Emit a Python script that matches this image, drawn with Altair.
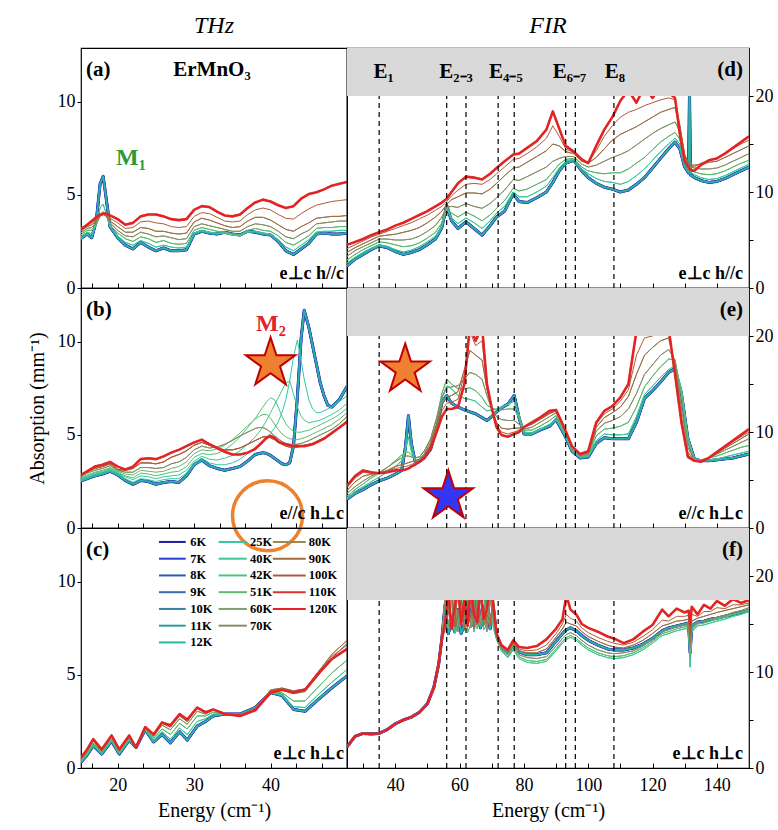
import altair as alt
import pandas as pd

FONT = "Liberation Serif"

# ---------------- temperatures / colours ----------------
TEMPS = ["6K", "7K", "8K", "9K", "10K", "11K", "12K", "25K", "40K", "42K",
         "51K", "60K", "70K", "80K", "90K", "100K", "110K", "120K"]
T_COLORS = ["#1c1ca4", "#2a3cd2", "#2f58ba", "#386cb2", "#3782a8", "#2a9a9a",
            "#2cb8a8", "#30c8a6", "#3cc890", "#4ec07e", "#62b86a", "#7ea070",
            "#8a8a66", "#9a8a50", "#9c6c46", "#b0583c", "#d83434", "#e82020"]
T_WIDTHS = [3.0, 2.6, 2.2, 1.9, 1.6, 1.3, 1.1, 1.0, 1.0, 1.0,
            1.0, 1.0, 1.0, 1.0, 1.0, 1.0, 2.6, 1.6]
GROUPS = ["lo"] * 7 + ["g1", "g1", "g2", "g2", "g3", "g3", "g4", "g4", "g5", "hi", "hi"]
GROUPS_B = ["lo"] * 7 + ["t25", "t40", "t42", "t51", "t60", "t60", "t80", "t80", "t80", "hi", "hi"]

# legend of panel (c): three columns of temperatures
LEG_COLS = [["6K", "7K", "8K", "9K", "10K", "11K", "12K"],
            ["25K", "40K", "42K", "51K", "60K", "70K"],
            ["80K", "90K", "100K", "110K", "120K"]]
LEG_LINE_X = [(25.4, 28.9), (33.2, 36.9), (40.3, 44.6)]
LEG_LABEL_X = [29.5, 37.3, 45.0]
LEG_Y0, LEG_DY = 12.15, 0.9

# ---------------- panel (a): THz, e perp c, h // c ----------------
XA = [15, 16, 16.6, 17.2, 17.7, 18.1, 18.5, 19, 20, 21,
      22, 23, 24, 25, 26, 27, 28, 29, 30, 31,
      32, 33, 34, 35, 36, 37, 38, 39, 40, 41,
      42, 43, 44, 45, 46, 47, 48, 49, 50]
A_CURVES = {
    "lo": [2.6, 2.9, 2.7, 3.6, 5.6, 6.0, 4.8, 3.3, 2.7, 2.3,
           2.1, 2.45, 2.2, 2.0, 2.15, 2.0, 2.0, 2.05, 2.9, 3.05,
           2.95, 2.9, 3.0, 2.9, 2.85, 3.05, 3.0, 2.9, 2.85, 2.5,
           2.0, 1.8, 2.1, 2.4, 2.9, 2.95, 2.9, 2.9, 2.95],
    "g1": [2.7, 3.0, 2.9, 3.4, 4.3, 4.5, 4.0, 3.3, 2.8, 2.45,
           2.3, 2.55, 2.4, 2.2, 2.3, 2.2, 2.15, 2.2, 2.95, 3.1,
           3.0, 2.95, 2.95, 2.85, 2.8, 3.0, 3.05, 2.95, 2.9, 2.6,
           2.2, 2.0, 2.3, 2.6, 3.0, 3.05, 3.05, 3.1, 3.1],
    "g2": [2.8, 3.1, 3.1, 3.4, 3.9, 4.1, 3.9, 3.4, 2.95, 2.65,
           2.5, 2.75, 2.65, 2.45, 2.55, 2.4, 2.35, 2.4, 3.1, 3.25,
           3.15, 3.05, 3.0, 2.9, 2.85, 3.1, 3.2, 3.1, 3.05, 2.8,
           2.45, 2.3, 2.55, 2.8, 3.2, 3.25, 3.25, 3.3, 3.3],
    "g3": [2.9, 3.2, 3.25, 3.5, 3.85, 3.95, 3.85, 3.5, 3.1, 2.8,
           2.75, 3.0, 2.9, 2.75, 2.8, 2.7, 2.6, 2.65, 3.3, 3.45,
           3.35, 3.25, 3.15, 3.05, 3.05, 3.3, 3.45, 3.4, 3.3, 3.05,
           2.75, 2.65, 2.9, 3.1, 3.45, 3.5, 3.55, 3.6, 3.6],
    "g4": [3.0, 3.3, 3.4, 3.6, 3.85, 3.95, 3.9, 3.6, 3.3, 3.0,
           3.0, 3.25, 3.2, 3.05, 3.05, 2.95, 2.9, 2.95, 3.55, 3.75,
           3.65, 3.5, 3.35, 3.25, 3.3, 3.6, 3.8, 3.8, 3.65, 3.4,
           3.15, 3.05, 3.3, 3.5, 3.75, 3.8, 3.85, 3.85, 3.9],
    "g5": [3.05, 3.35, 3.5, 3.7, 3.9, 3.95, 3.95, 3.75, 3.5, 3.2,
           3.25, 3.55, 3.6, 3.5, 3.45, 3.3, 3.25, 3.3, 3.85, 4.05,
           4.0, 3.8, 3.6, 3.55, 3.6, 3.95, 4.2, 4.3, 4.2, 3.95,
           3.75, 3.7, 4.0, 4.25, 4.45, 4.55, 4.65, 4.7, 4.75],
    "hi": [3.1, 3.4, 3.6, 3.8, 3.95, 4.0, 4.0, 3.9, 3.7, 3.4,
           3.5, 3.85, 3.95, 3.95, 3.85, 3.7, 3.65, 3.7, 4.2, 4.4,
           4.35, 4.1, 3.9, 3.85, 3.95, 4.3, 4.6, 4.75, 4.65, 4.45,
           4.3, 4.4, 4.8, 5.05, 5.15, 5.3, 5.5, 5.6, 5.7],
}

# ---------------- panel (b): THz, e // c, h perp c ----------------
XB = [15, 16, 17, 18, 19, 20, 21, 22, 23, 24,
      25, 26, 27, 28, 29, 30, 31, 32, 33, 34,
      35, 36, 37, 38, 38.5, 39, 39.5, 40, 40.5, 41,
      41.5, 42, 42.5, 43, 43.5, 44, 44.4, 45, 45.5, 46,
      46.5, 47, 47.5, 48, 49, 50]
B_CURVES = {
    "lo": [2.5, 2.65, 2.8, 2.9, 3.05, 2.85, 2.55, 2.35, 2.55, 2.5,
           2.35, 2.45, 2.5, 2.45, 2.8, 3.4, 3.65, 3.35, 3.2, 3.1,
           3.2, 3.3, 3.6, 3.95, 4.0, 4.05, 4.0, 3.9, 3.75, 3.6,
           3.45, 3.4, 3.5, 4.4, 7.0, 10.2, 11.7, 10.8, 9.8, 8.8,
           7.8, 7.1, 6.6, 6.5, 6.9, 7.6],
    "t25": [2.55, 2.7, 2.85, 2.95, 3.1, 2.9, 2.65, 2.45, 2.65, 2.6,
            2.5, 2.6, 2.65, 2.65, 2.95, 3.5, 3.75, 3.5, 3.4, 3.4,
            3.5, 3.7, 4.0, 4.35, 4.5, 4.7, 4.9, 5.1, 5.35, 5.7,
            6.2, 6.9, 7.9, 9.2, 10.1, 9.0, 8.0, 6.9, 6.4, 6.2,
            6.2, 6.3, 6.4, 6.5, 6.8, 7.1],
    "t40": [2.6, 2.75, 2.9, 3.0, 3.15, 2.95, 2.75, 2.6, 2.8, 2.75,
            2.65, 2.75, 2.8, 2.85, 3.1, 3.6, 3.85, 3.7, 3.65, 3.75,
            3.9, 4.15, 4.5, 4.9, 5.15, 5.45, 5.8, 6.2, 6.6, 7.0,
            7.4, 7.8, 7.9, 7.2, 6.5, 6.0, 5.8, 5.65, 5.7, 5.75,
            5.8, 5.9, 6.0, 6.1, 6.35, 6.7],
    "t42": [2.65, 2.8, 2.95, 3.05, 3.2, 3.0, 2.8, 2.7, 2.95, 2.9,
            2.8, 2.9, 3.0, 3.05, 3.3, 3.8, 4.0, 3.95, 4.0, 4.2,
            4.5, 4.9, 5.4, 5.9, 6.2, 6.5, 6.8, 7.0, 6.9, 6.5,
            6.0, 5.6, 5.35, 5.2, 5.15, 5.15, 5.2, 5.25, 5.35, 5.45,
            5.55, 5.65, 5.75, 5.85, 6.1, 6.45],
    "t51": [2.7, 2.85, 3.0, 3.1, 3.25, 3.05, 2.9, 2.85, 3.1, 3.05,
            3.0, 3.05, 3.2, 3.3, 3.55, 4.0, 4.2, 4.15, 4.25, 4.45,
            4.75, 5.1, 5.5, 5.85, 6.0, 6.1, 6.1, 5.9, 5.6, 5.3,
            5.05, 4.9, 4.8, 4.75, 4.75, 4.8, 4.85, 4.95, 5.05, 5.15,
            5.25, 5.35, 5.45, 5.55, 5.85, 6.2],
    "t60": [2.75, 2.95, 3.1, 3.2, 3.35, 3.1, 3.0, 3.0, 3.25, 3.25,
            3.2, 3.25, 3.45, 3.55, 3.8, 4.2, 4.4, 4.3, 4.35, 4.5,
            4.7, 4.95, 5.15, 5.35, 5.4, 5.4, 5.3, 5.15, 4.95, 4.8,
            4.65, 4.55, 4.5, 4.5, 4.5, 4.55, 4.6, 4.7, 4.8, 4.9,
            5.0, 5.1, 5.2, 5.3, 5.6, 6.0],
    "t80": [2.8, 3.0, 3.2, 3.3, 3.45, 3.15, 3.1, 3.2, 3.5, 3.5,
            3.45, 3.55, 3.8, 3.95, 4.15, 4.45, 4.6, 4.45, 4.3, 4.2,
            4.2, 4.3, 4.5, 4.7, 4.8, 4.9, 4.9, 4.85, 4.75, 4.6,
            4.5, 4.4, 4.35, 4.35, 4.35, 4.4, 4.45, 4.5, 4.55, 4.65,
            4.75, 4.85, 4.95, 5.1, 5.4, 5.8],
    "hi": [2.8, 3.05, 3.3, 3.4, 3.55, 3.3, 3.15, 3.3, 3.7, 3.75,
           3.7, 3.85, 4.05, 4.2, 4.4, 4.6, 4.75, 4.5, 4.3, 4.1,
           3.95, 3.95, 4.05, 4.25, 4.45, 4.65, 4.85, 4.95, 4.85, 4.65,
           4.55, 4.5, 4.45, 4.4, 4.4, 4.4, 4.4, 4.45, 4.5, 4.6,
           4.7, 4.8, 4.95, 5.1, 5.4, 5.7],
}

# ---------------- panel (c): THz, e perp c, h perp c ----------------
XC = [15.2, 16.0, 16.8, 17.9, 19.2, 20.2, 21.5, 22.4, 23.6, 24.7,
      25.8, 26.9, 28.1, 29.1, 30.4, 31.5, 32.5, 34, 36, 38,
      40, 41.5, 43, 44.5, 46, 48, 50]
C_CURVES = {
    "lo": [0.3, 0.7, 1.2, 0.75, 1.45, 0.75, 1.5, 1.1, 2.05, 1.4,
           1.8, 1.35, 1.95, 1.5, 2.25, 2.5, 2.8, 2.9, 2.9, 3.25,
           4.05, 3.9, 3.15, 3.05, 3.6, 4.3, 4.95],
    "g1": [0.35, 0.75, 1.25, 0.8, 1.5, 0.8, 1.55, 1.1, 2.1, 1.5,
           1.95, 1.55, 2.15, 1.8, 2.5, 2.65, 2.9, 2.9, 2.85, 3.2,
           4.05, 3.95, 3.3, 3.25, 3.85, 4.6, 5.3],
    "g2": [0.4, 0.8, 1.35, 0.85, 1.55, 0.85, 1.6, 1.1, 2.1, 1.6,
           2.1, 1.8, 2.4, 2.1, 2.8, 2.8, 3.0, 2.9, 2.85, 3.2,
           4.1, 4.05, 3.6, 3.6, 4.25, 5.1, 5.8],
    "g3": [0.45, 0.9, 1.45, 0.9, 1.65, 0.9, 1.65, 1.1, 2.15, 1.7,
           2.3, 2.05, 2.65, 2.35, 3.05, 2.9, 3.1, 2.95, 2.85, 3.2,
           4.15, 4.2, 4.0, 4.1, 4.85, 5.9, 6.7],
    "g4": [0.5, 0.95, 1.5, 0.95, 1.7, 0.95, 1.7, 1.1, 2.2, 1.75,
           2.4, 2.2, 2.8, 2.5, 3.2, 2.95, 3.15, 2.95, 2.85, 3.2,
           4.2, 4.3, 4.15, 4.25, 5.05, 6.1, 6.85],
    "g5": [0.55, 1.0, 1.55, 1.0, 1.75, 1.0, 1.75, 1.1, 2.2, 1.8,
           2.45, 2.25, 2.85, 2.55, 3.25, 3.0, 3.15, 2.9, 2.8, 3.15,
           4.15, 4.25, 4.1, 4.25, 5.0, 6.0, 6.6],
    "hi": [0.55, 1.0, 1.55, 1.0, 1.75, 1.0, 1.75, 1.1, 2.2, 1.8,
           2.45, 2.3, 2.9, 2.6, 3.25, 3.0, 3.15, 2.9, 2.8, 3.1,
           4.05, 4.2, 4.05, 4.2, 4.95, 5.85, 6.4],
}

# ---------------- panel (d): FIR, e perp c, h // c ----------------
XD = [25, 27.5, 30, 32.5, 35, 37.5, 40, 42.5, 45, 47.5,
      50, 52.5, 54.5, 56, 57.5, 59.5, 62, 64.5, 67, 69.5,
      71.5, 74, 76.7, 78.5, 81, 84, 87, 89, 91, 93,
      95.5, 98, 100, 102.5, 105, 107.5, 110, 112.5, 115, 117.5,
      120, 122.5, 125, 127, 128.5, 130, 131.2, 131.5, 131.8, 133,
      135, 137.5, 140, 142.5, 145, 147.5, 150]
D_CURVES = {
    "lo": [2.3, 3.0, 3.5, 4.0, 4.4, 4.2, 3.8, 3.5, 3.7, 4.0,
           4.5, 5.1, 6.3, 8.6, 7.0, 6.2, 6.9, 6.2, 5.5, 6.5,
           7.4, 8.0, 9.8, 9.0, 8.9, 9.4, 10.0, 11.0, 12.2, 13.0,
           13.3, 12.2, 11.5, 10.9, 10.5, 10.3, 10.0, 10.2, 10.8, 11.5,
           12.5, 13.5, 14.5, 15.2, 14.5, 12.6, 12.0, 20.5, 11.8, 11.5,
           11.2, 11.0, 11.1, 11.4, 11.8, 12.2, 12.6],
    "g1": [2.6, 3.2, 3.7, 4.15, 4.5, 4.35, 4.0, 3.75, 3.95, 4.3,
           4.8, 5.4, 6.5, 8.3, 7.3, 6.7, 7.3, 6.8, 6.2, 7.0,
           7.8, 8.5, 10.0, 9.5, 9.5, 10.0, 10.6, 11.5, 12.5, 13.2,
           13.4, 12.4, 11.9, 11.4, 11.1, 11.0, 10.8, 11.1, 11.7, 12.4,
           13.3, 14.2, 15.0, 15.6, 15.0, 13.0, 12.3, 12.2, 12.1, 11.8,
           11.5, 11.3, 11.4, 11.7, 12.1, 12.5, 12.9],
    "g2": [2.9, 3.5, 4.0, 4.4, 4.8, 4.7, 4.5, 4.3, 4.4, 4.7,
           5.2, 5.8, 6.8, 8.3, 7.8, 7.4, 7.9, 7.5, 7.0, 7.6,
           8.3, 9.1, 10.4, 10.1, 10.3, 10.8, 11.3, 12.1, 12.9, 13.4,
           13.5, 12.6, 12.2, 12.0, 11.9, 12.0, 12.0, 12.4, 13.0, 13.6,
           14.4, 15.2, 15.8, 16.2, 15.5, 13.3, 12.5, 12.4, 12.3, 12.1,
           11.9, 11.8, 11.9, 12.2, 12.6, 13.0, 13.3],
    "g3": [3.3, 3.9, 4.3, 4.7, 5.1, 5.1, 5.0, 5.0, 5.1, 5.4,
           5.9, 6.5, 7.4, 8.4, 8.5, 8.4, 8.8, 8.5, 8.3, 8.8,
           9.4, 10.2, 11.3, 11.2, 11.6, 12.1, 12.6, 13.2, 13.5, 13.7,
           13.7, 12.9, 12.6, 12.8, 13.2, 13.6, 13.9, 14.3, 14.9, 15.5,
           16.1, 16.6, 17.0, 17.3, 16.3, 13.6, 12.8, 12.7, 12.6, 12.5,
           12.4, 12.4, 12.5, 12.8, 13.2, 13.6, 14.0],
    "g4": [3.7, 4.2, 4.6, 5.0, 5.4, 5.5, 5.6, 5.8, 6.0, 6.3,
           6.8, 7.4, 8.0, 8.7, 9.2, 9.5, 9.9, 9.9, 9.8, 10.3,
           10.9, 11.7, 12.5, 12.6, 13.1, 13.7, 14.3, 15.0, 14.8, 14.2,
           14.0, 13.2, 13.0, 13.6, 14.5, 15.4, 16.0, 16.4, 16.8, 17.3,
           17.8, 18.3, 18.6, 18.8, 16.8, 13.9, 13.0, 12.9, 12.8, 12.8,
           12.9, 13.1, 13.2, 13.6, 14.0, 14.4, 14.8],
    "g5": [4.1, 4.5, 4.9, 5.3, 5.6, 5.9, 6.2, 6.5, 6.8, 7.2,
           7.6, 8.1, 8.5, 9.0, 9.6, 10.2, 10.8, 10.9, 10.8, 11.3,
           11.9, 12.6, 13.4, 13.5, 14.0, 14.7, 15.6, 16.9, 15.8, 14.5,
           14.1, 13.3, 13.1, 14.3, 15.8, 16.9, 17.8, 18.3, 18.6, 19.0,
           19.3, 19.6, 19.8, 19.6, 17.0, 13.8, 12.9, 12.8, 12.7, 12.6,
           13.0, 13.3, 13.5, 14.0, 14.5, 15.0, 15.4],
    "hi": [4.5, 4.8, 5.1, 5.5, 5.8, 6.1, 6.5, 6.8, 7.2, 7.6,
           8.0, 8.5, 8.9, 9.3, 10.0, 10.9, 11.6, 11.5, 11.3, 11.9,
           12.5, 13.2, 13.9, 14.0, 14.6, 15.3, 16.5, 18.4, 16.6, 14.8,
           14.2, 13.4, 13.0, 14.8, 16.5, 17.8, 19.5, 20.6, 19.3, 21.0,
           19.8, 21.0, 20.4, 19.8, 16.0, 13.2, 12.6, 12.4, 12.3, 12.2,
           12.8, 13.3, 13.5, 14.0, 14.6, 15.2, 15.8],
}

# ---------------- panel (e): FIR, e // c, h perp c ----------------
XE = [25, 27.5, 30, 32.5, 35, 37.5, 40, 42, 43.2, 44.1,
      45, 46.2, 47.5, 49, 51, 53, 54.5, 56, 57.5, 59.5,
      61.5, 63.2, 65, 67, 68.5, 70, 71.5, 73, 75, 77,
      78.5, 80, 82.5, 85, 88, 90, 92.5, 95, 97.5, 100,
      102.5, 105, 107.5, 110, 112.5, 115, 117.5, 120, 122.5, 125,
      127, 129, 131, 133, 135, 137.5, 140, 142.5, 145, 147.5,
      150]
E_CURVES = {
    "lo": [3.0, 3.6, 4.0, 4.5, 4.9, 5.2, 5.6, 6.0, 8.5, 11.7,
           8.8, 6.9, 6.9, 7.3, 8.2, 10.5, 13.1, 13.8, 13.0, 12.6,
           12.3, 12.1, 11.9, 11.5, 11.2, 11.6, 12.1, 12.5, 12.9, 13.8,
           11.5, 9.8, 9.8, 10.2, 10.6, 11.3, 9.8, 8.0, 7.3, 7.4,
           8.8, 9.4, 9.3, 9.3, 9.3, 11.0, 13.5, 14.3, 15.2, 16.2,
           16.6, 14.0, 9.3, 7.2, 7.0, 7.0, 7.1, 7.2, 7.3, 7.5,
           7.7],
    "g1": [3.1, 3.8, 4.3, 4.8, 5.3, 5.8, 6.4, 7.0, 8.2, 9.5,
           8.0, 7.0, 7.1, 7.6, 8.6, 10.9, 13.5, 14.8, 14.5, 13.8,
           13.5, 13.4, 13.2, 12.6, 12.2, 12.3, 12.4, 12.6, 12.9, 13.2,
           11.8, 10.0, 9.9, 10.3, 10.8, 11.4, 9.9, 8.1, 7.4, 7.5,
           9.1, 9.8, 9.7, 9.7, 9.8, 11.6, 13.9, 14.8, 15.7, 16.5,
           16.9, 14.5, 9.5, 7.2, 7.0, 7.1, 7.2, 7.4, 7.6, 7.8,
           8.0],
    "g2": [3.3, 4.0, 4.6, 5.2, 5.7, 6.3, 7.0, 7.6, 7.9, 7.9,
           7.6, 7.3, 7.4, 8.0, 9.2, 11.6, 14.0, 15.5, 15.0, 14.5,
           14.5, 14.6, 14.3, 13.6, 12.8, 12.5, 12.3, 12.3, 12.4, 12.4,
           11.4, 10.2, 10.2, 10.6, 11.2, 11.7, 10.1, 8.2, 7.4, 7.6,
           9.6, 10.3, 10.4, 10.6, 11.0, 12.6, 14.7, 15.8, 16.8, 17.6,
           17.5, 14.0, 9.0, 7.2, 7.1, 7.3, 7.5, 7.8, 8.1, 8.4,
           8.6],
    "g3": [3.6, 4.3, 4.9, 5.4, 5.8, 6.3, 6.9, 7.3, 7.5, 7.5,
           7.4, 7.3, 7.4, 8.0, 9.3, 11.6, 13.6, 14.6, 14.7, 14.8,
           15.5, 16.2, 16.0, 15.5, 13.8, 12.4, 11.6, 11.3, 11.2, 11.2,
           10.8, 10.3, 10.5, 11.0, 11.6, 12.0, 10.3, 8.3, 7.5, 7.7,
           10.1, 10.9, 11.2, 11.6, 12.4, 14.0, 16.0, 17.0, 18.0, 18.6,
           17.5, 12.5, 8.4, 7.1, 7.0, 7.3, 7.7, 8.1, 8.5, 8.9,
           9.3],
    "g4": [3.9, 4.8, 5.4, 5.6, 5.7, 6.0, 6.4, 6.6, 6.7, 6.8,
           6.9, 7.0, 7.2, 7.7, 8.9, 11.0, 12.8, 13.6, 13.8, 14.2,
           16.5, 18.5, 18.0, 17.5, 14.5, 12.4, 11.0, 10.4, 10.3, 10.4,
           10.4, 10.5, 10.8, 11.3, 11.9, 12.2, 10.4, 8.4, 7.6, 7.8,
           10.5, 11.5, 12.0, 12.6, 13.7, 16.0, 18.0, 18.8, 19.5, 19.8,
           17.0, 11.5, 7.9, 7.0, 6.9, 7.3, 7.8, 8.3, 8.8, 9.3,
           9.8],
    "g5": [4.2, 5.2, 5.8, 5.7, 5.7, 5.9, 6.2, 6.3, 6.4, 6.5,
           6.6, 6.8, 7.0, 7.5, 8.6, 10.6, 12.2, 13.0, 13.1, 13.4,
           16.0, 20.5, 19.0, 19.5, 14.8, 12.4, 10.7, 10.0, 9.8, 10.0,
           10.2, 10.5, 10.9, 11.4, 12.0, 12.2, 10.4, 8.4, 7.6, 7.9,
           10.8, 11.9, 12.4, 13.2, 14.4, 18.0, 19.8, 20.0, 20.5, 20.5,
           16.5, 10.8, 7.6, 7.0, 6.9, 7.3, 7.8, 8.4, 9.0, 9.5,
           10.0],
    "hi": [4.4, 5.4, 6.0, 5.8, 5.7, 5.8, 6.0, 6.0, 6.1, 6.2,
           6.4, 6.6, 6.9, 7.3, 8.3, 10.1, 11.6, 12.4, 12.4, 12.6,
           15.0, 21.0, 19.5, 21.0, 15.0, 12.5, 10.5, 9.7, 9.5, 9.8,
           10.0, 10.5, 11.0, 11.5, 12.2, 12.3, 10.5, 8.5, 7.7, 8.0,
           11.0, 12.2, 12.7, 13.6, 15.0, 20.5, 21.0, 20.5, 21.0, 20.8,
           16.0, 11.0, 7.4, 7.0, 6.9, 7.3, 7.9, 8.5, 9.1, 9.7,
           10.3],
}

# ---------------- panel (f): FIR, e perp c, h perp c ----------------
XF = [25, 27.5, 30, 32.5, 35, 37.5, 40, 42.5, 45, 47.5, 50, 52, 53.5, 54.5,
      55.5, 56.5, 57.5, 58.5, 59.5, 60.5, 61.5, 62.5, 63.5, 64.5, 65.5, 66.5, 67.5, 68.5, 69.5, 70.5,
      71.5, 73, 75, 76.7, 78.5, 81, 84, 87, 90, 92,
      93.2, 94.5, 96.3, 98, 100, 103, 106, 108, 111, 114,
      117, 120, 123, 125, 127.5, 130, 131.2, 131.7, 132.2, 134,
      136, 138, 140, 142.5, 145, 147.5, 150]
F_BASE = [2.2, 3.3, 3.6, 3.55, 3.6, 4.0, 4.6, 5.0, 5.3, 5.8, 6.7, 8.4, 10.8, 13.5]
F_CURVES = {
    "lo": F_BASE + [17.0, 14.0, 15.2, 14.2, 16.5, 14.0, 15.0, 17.8, 15.3, 14.8, 18.5, 14.6, 15.8, 17.9, 14.5, 16.8]
    + [13.8, 12.6, 12.0, 12.9, 12.1, 11.8, 11.8, 12.0, 13.2, 14.0,
       14.4, 14.6, 14.3, 13.8, 13.3, 12.8, 12.4, 12.3, 12.3, 12.5,
       12.9, 13.5, 14.3, 14.6, 14.8, 15.0, 15.1, 12.0, 14.8, 15.2,
       15.3, 15.5, 15.6, 15.8, 16.0, 16.2, 16.4],
    "g1": F_BASE + [16.0, 14.5, 17.5, 14.0, 15.0, 18.0, 14.3, 15.6, 17.5, 14.2, 15.9, 17.8, 14.4, 15.0, 18.5, 14.6]
    + [13.4, 12.2, 11.5, 12.3, 11.4, 11.0, 10.9, 11.1, 12.2, 13.0,
       13.4, 13.6, 13.3, 12.8, 12.3, 11.8, 11.5, 11.4, 11.5, 11.8,
       12.3, 13.0, 13.8, 14.0, 14.3, 14.5, 14.5, 10.5, 14.2, 14.8,
       14.9, 15.1, 15.3, 15.5, 15.8, 16.0, 16.3],
    "g2": F_BASE + [14.3, 17.0, 15.0, 18.2, 14.5, 15.5, 18.6, 14.1, 15.0, 17.6, 14.5, 15.3, 18.3, 14.8, 16.0, 15.2]
    + [13.5, 12.3, 11.6, 12.5, 11.6, 11.2, 11.1, 11.3, 12.4, 13.2,
       13.6, 13.8, 13.5, 13.0, 12.5, 12.0, 11.7, 11.6, 11.7, 12.0,
       12.5, 13.2, 14.0, 14.2, 14.5, 14.7, 14.7, 11.5, 14.4, 15.0,
       15.1, 15.3, 15.5, 15.7, 16.0, 16.2, 16.5],
    "g3": F_BASE + [18.0, 14.8, 15.6, 17.0, 14.2, 16.8, 15.2, 18.5, 14.6, 15.8, 17.2, 14.9, 16.4, 14.2, 17.6, 15.5]
    + [13.6, 12.4, 11.8, 12.7, 11.8, 11.5, 11.4, 11.6, 12.7, 13.5,
       13.9, 14.1, 13.8, 13.3, 12.8, 12.3, 12.0, 11.9, 12.0, 12.2,
       12.7, 13.4, 14.2, 14.4, 14.7, 14.9, 14.9, 12.5, 14.6, 15.2,
       15.3, 15.5, 15.7, 15.9, 16.2, 16.4, 16.7],
    "g4": F_BASE + [15.5, 17.8, 14.4, 15.2, 18.4, 14.9, 16.2, 15.0, 18.0, 14.5, 16.6, 18.2, 14.8, 16.0, 15.3, 17.5]
    + [13.8, 12.6, 12.1, 13.0, 12.2, 12.0, 12.0, 12.4, 13.6, 14.5,
       15.2, 15.0, 14.8, 14.2, 13.7, 13.2, 12.8, 12.6, 12.5, 12.8,
       13.3, 14.0, 14.8, 15.0, 15.3, 15.4, 15.5, 13.0, 15.3, 15.6,
       15.8, 16.0, 16.2, 16.4, 16.6, 16.8, 17.0],
    "g5": F_BASE + [14.6, 16.0, 18.5, 14.7, 15.8, 17.5, 14.4, 16.9, 15.6, 18.8, 14.9, 16.3, 17.0, 15.1, 14.8, 18.1]
    + [13.9, 12.7, 12.2, 13.1, 12.4, 12.2, 12.3, 12.8, 14.0, 15.0,
       16.0, 15.6, 15.3, 14.6, 14.1, 13.6, 13.2, 13.0, 12.8, 13.1,
       13.7, 14.4, 15.4, 15.3, 15.8, 15.8, 15.9, 14.0, 16.0, 15.8,
       16.3, 16.3, 16.7, 16.6, 17.0, 17.0, 17.2],
    "hi": F_BASE + [15.0, 18.5, 14.5, 16.8, 19.0, 15.0, 17.5, 14.8, 19.0, 16.0, 15.2, 18.8, 15.5, 16.5, 19.0, 17.0]
    + [14.0, 12.8, 12.3, 13.3, 12.6, 12.5, 12.7, 13.4, 14.5, 15.5,
       18.0, 16.5, 16.0, 15.0, 14.6, 14.2, 13.7, 13.5, 13.0, 13.4,
       14.2, 14.9, 16.5, 15.8, 16.6, 16.2, 16.4, 15.0, 16.8, 16.0,
       17.0, 16.6, 17.4, 16.9, 17.6, 17.2, 17.5],
}

# ---------------- annotations ----------------
E_LINES = [35, 56, 62, 72, 77, 93, 96, 108]
E_LABELS = ["E₁", "E₂₋₃", "E₄₋₅", "E₆₋₇", "E₈"]
E_LABEL_X = [36.4, 58.9, 74.4, 94.2, 108.3]
STAR = ("M0,-1L0.2245,-0.309L0.9511,-0.309L0.3633,0.118L0.5878,0.809L0,0.382"
        "L-0.5878,0.809L-0.3633,0.118L-0.9511,-0.309L-0.2245,-0.309Z")

XS_L = alt.Scale(domain=[15.2, 50], nice=False, zero=False)
XS_R = alt.Scale(domain=[25, 150], nice=False, zero=False)
YS_L = alt.Scale(domain=[0, 12.9], nice=False, zero=False)
YS_R = alt.Scale(domain=[0, 25], nice=False, zero=False)
W_L, W_R, H = 266, 402, 240
COLOR_SCALE = alt.Scale(domain=TEMPS, range=T_COLORS)


def table(xs, curves, groups):
    rows = []
    for t, g, w in zip(TEMPS, groups, T_WIDTHS):
        ys = curves[g]
        assert len(ys) == len(xs), (g, len(ys), len(xs))
        for xv, yv in zip(xs, ys):
            rows.append((xv, yv, t, w))
    return pd.DataFrame(rows, columns=["E", "A", "T", "w"])


def x_axis(side, bottom):
    common = dict(domain=False, grid=False, ticks=True, tickSize=5, offset=-5,
                  tickColor="black", labelFont=FONT, labelFontSize=18, labelColor="black",
                  labelPadding=8, labelFlush=False, labelOverlap=False,
                  titleFont=FONT, titleFontSize=20, titleFontWeight="normal",
                  titleColor="black", titlePadding=6)
    if side == "L":
        vals = [16.67, 20, 23.33, 26.67, 30, 33.33, 36.67, 40, 43.33, 46.67]
        expr = "datum.value % 10 === 0 ? format(datum.value, 'd') : ''"
    else:
        vals = [30, 40, 50, 60, 70, 80, 90, 100, 110, 120, 130, 140]
        expr = "datum.value % 20 === 0 ? format(datum.value, 'd') : ''"
    if bottom:
        return alt.Axis(values=vals, labelExpr=expr, title="Energy (cm⁻¹)", **common)
    return alt.Axis(values=vals, labels=False, title=None, **common)


def y_axis(side, title=None):
    common = dict(domain=False, grid=False, tickSize=4, tickColor="black",
                  labelFont=FONT, labelFontSize=18, labelColor="black", labelPadding=2,
                  labelFlush=False, titleFont=FONT, titleFontSize=20,
                  titleFontWeight="normal", titleColor="black", titlePadding=10)
    if side == "L":
        return alt.Axis(values=[0, 5, 10], title=title, **common)
    return alt.Axis(orient="right", values=[0, 5, 10, 15, 20], title=None,
                    labelExpr="datum.value % 10 === 0 ? datum.label : ''", **common)


def text_mark(txt, x, y, align="left", size=21, color="black", weight="bold"):
    return alt.Chart(pd.DataFrame({"t": [txt]})).mark_text(
        align=align, baseline="middle", font=FONT, fontSize=size,
        fontWeight=weight, color=color
    ).encode(x=alt.value(x), y=alt.value(y), text="t:N")


def panel(side, bottom, df, texts, band=None, extra=(), title=None, ytitle=None):
    XS = XS_L if side == "L" else XS_R
    YS = YS_L if side == "L" else YS_R
    W = W_L if side == "L" else W_R
    XAX = x_axis(side, bottom)
    YAX = y_axis(side, ytitle)

    def ex(f):
        return alt.X(f, scale=XS, axis=XAX)

    def ey(f):
        return alt.Y(f, scale=YS, axis=YAX)

    lines = alt.Chart(df).mark_line(clip=True, strokeJoin="round").encode(
        x=ex("E:Q"), y=ey("A:Q"),
        color=alt.Color("T:N", scale=COLOR_SCALE, legend=None),
        strokeWidth=alt.StrokeWidth("w:Q", scale=None),
    )
    layers = [lines]
    if band is not None:
        layers.append(alt.Chart(pd.DataFrame({"A": [band], "A2": [25]})).mark_rect(
            color="#d9d9d9").encode(
            x=alt.value(0), x2=alt.value(W), y=ey("A:Q"), y2="A2:Q"))
        layers.append(alt.Chart(pd.DataFrame({"E": E_LINES, "A": [0] * len(E_LINES),
                                              "A2": [band] * len(E_LINES)})).mark_rule(
            color="black", strokeDash=[5, 4], strokeWidth=1.2).encode(
            x=ex("E:Q"), y=ey("A:Q"), y2="A2:Q"))
    for spec in extra:
        layers.extend(spec(ex, ey))
    for t in texts:
        layers.append(text_mark(*t[:3], **(t[3] if len(t) > 3 else {})))
    ch = alt.layer(*layers).properties(width=W, height=H)
    if title:
        ch = ch.properties(title=alt.TitleParams(
            text=title, font=FONT, fontSize=24, fontStyle="italic", fontWeight="normal",
            anchor="middle", offset=10, color="black"))
    return ch


def e_labels(ex, ey):
    return [alt.Chart(pd.DataFrame({"E": E_LABEL_X, "A": [22.5] * len(E_LABEL_X),
                                    "t": E_LABELS})).mark_text(
        font=FONT, fontSize=21, fontWeight="bold", color="black", baseline="middle"
    ).encode(x=ex("E:Q"), y=ey("A:Q"), text="t:N")]


def stars(xs, ys, fill):
    def f(ex, ey):
        return [alt.Chart(pd.DataFrame({"E": xs, "A": ys})).mark_point(
            shape=STAR, size=2700, filled=True, fill=fill, stroke="#c00000",
            strokeWidth=2, opacity=1, fillOpacity=1).encode(x=ex("E:Q"), y=ey("A:Q"))]
    return f


def ring(ex, ey):
    return [alt.Chart(pd.DataFrame({"E": [39.6], "A": [0.66]})).mark_point(
        shape="circle", size=4900, filled=False, stroke="#f0802a", strokeWidth=3.5,
        opacity=1).encode(x=ex("E:Q"), y=ey("A:Q"))]


def legend_marks(ex, ey):
    rows = []
    for (x1, x2), xl, col in zip(LEG_LINE_X, LEG_LABEL_X, LEG_COLS):
        for i, t in enumerate(col):
            rows.append((x1, x2, xl, LEG_Y0 - LEG_DY * i, t))
    df = pd.DataFrame(rows, columns=["E", "E2", "EL", "A", "T"])
    seg = alt.Chart(df).mark_rule(strokeWidth=2).encode(
        x=ex("E:Q"), x2="E2:Q", y=ey("A:Q"),
        color=alt.Color("T:N", scale=COLOR_SCALE, legend=None))
    lab = alt.Chart(df).mark_text(
        align="left", baseline="middle", font=FONT, fontSize=12.5, fontWeight="bold",
        color="black").encode(x=ex("EL:Q"), y=ey("A:Q"), text="T:N")
    return [seg, lab]


pa = panel("L", False, table(XA, A_CURVES, GROUPS),
           [("(a)", 5, 22), ("ErMnO₃", 131, 22, {"align": "center"}),
            ("M₁", 50, 110, {"align": "center", "size": 24, "color": "#2e9a36"}),
            ("e⊥c h//c", 263, 226, {"align": "right", "size": 18})],
           title="THz")
pb = panel("L", False, table(XB, B_CURVES, GROUPS_B),
           [("(b)", 5, 22),
            ("M₂", 190, 36, {"align": "center", "size": 24, "color": "#e0242a"}),
            ("e//c h⊥c", 263, 226, {"align": "right", "size": 18})],
           extra=(stars([40.0], [8.85], "#ef8032"), ring),
           ytitle="Absorption (mm⁻¹)")
pc = panel("L", True, table(XC, C_CURVES, GROUPS),
           [("(c)", 5, 22), ("e⊥c h⊥c", 263, 226, {"align": "right", "size": 18})],
           extra=(legend_marks,))
pdd = panel("R", False, table(XD, D_CURVES, GROUPS),
            [("(d)", 396, 22, {"align": "right"}),
             ("e⊥c h//c", 396, 226, {"align": "right", "size": 18})],
            band=20, extra=(e_labels,), title="FIR")
pe = panel("R", False, table(XE, E_CURVES, GROUPS),
           [("(e)", 396, 22, {"align": "right"}),
            ("e//c h⊥c", 396, 226, {"align": "right", "size": 18})],
           band=20, extra=(stars([43.1], [16.5], "#ef8032"), stars([56.5], [3.3], "#3535f5")))
pf = panel("R", True, table(XF, F_CURVES, GROUPS),
           [("(f)", 396, 22, {"align": "right"}),
            ("e⊥c h⊥c", 396, 226, {"align": "right", "size": 18})],
           band=17.5)

chart = alt.concat(
    pa, pdd, pb, pe, pc, pf, columns=2, spacing=0, bounds="flush", align="each"
).properties(
    padding={"left": 26, "top": 13, "right": 2, "bottom": 4}, background="white"
).configure_view(stroke="black", strokeWidth=1.2)

chart.save("out.html", embed_options={"renderer": "svg", "actions": False})
